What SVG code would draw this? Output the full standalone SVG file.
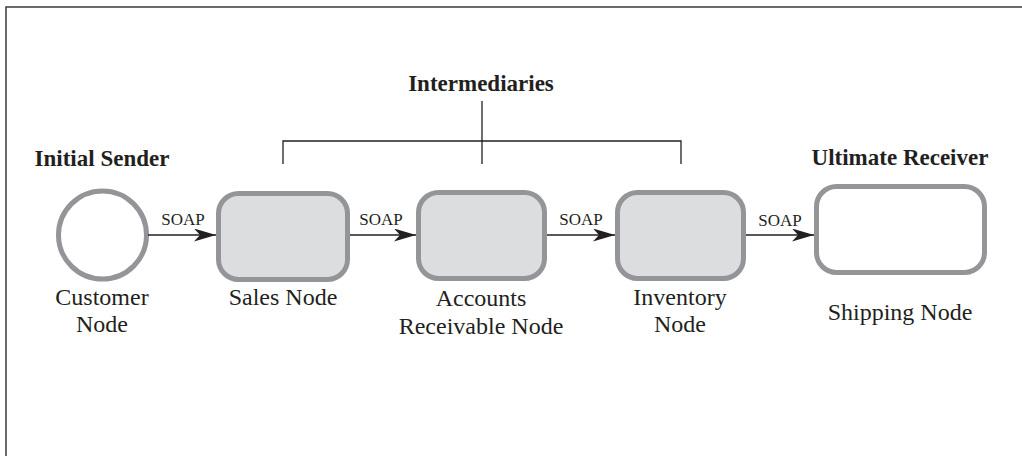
<svg xmlns="http://www.w3.org/2000/svg" width="1022" height="456" viewBox="0 0 1022 456">
<style>
.frame{fill:none;stroke:#3a3a3a;stroke-width:1.5}
.node{fill:#dcddde;stroke:#939598;stroke-width:5}
.endnode{fill:#ffffff;stroke:#939598;stroke-width:5}
.conn{stroke:#231f20;stroke-width:1.5;fill:none}
.br{stroke:#231f20;stroke-width:1.3;fill:none}
.lbl{font-family:"Liberation Serif",serif;font-size:24px;fill:#231f20;text-anchor:middle}
.hdr{font-family:"Liberation Serif",serif;font-size:23px;font-weight:bold;fill:#231f20;text-anchor:middle}
.soap{font-family:"Liberation Serif",serif;font-size:17px;fill:#231f20;text-anchor:middle}
</style>
<defs>
<marker id="ah" markerUnits="userSpaceOnUse" markerWidth="24" markerHeight="14" refX="22" refY="6.5" orient="auto">
<path d="M0,0 L22,6.5 L0,13 L6,6.5 Z" fill="#231f20"/>
</marker>
</defs>
<rect class="frame" x="6" y="7" width="1030" height="470"/>
<g id="headers">
<text class="hdr" x="102" y="166">Initial Sender</text>
<text class="hdr" x="481" y="91">Intermediaries</text>
<text class="hdr" x="900" y="165">Ultimate Receiver</text>
</g>
<g id="bracket">
<path class="br" d="M482,101 V164 M283,164 V141 H681 V164"/>
</g>
<g id="customer">
<circle class="endnode" cx="102.5" cy="235" r="44"/>
<text class="lbl" x="102" y="305">Customer</text>
<text class="lbl" x="102" y="332">Node</text>
</g>
<g id="sales">
<rect class="node" x="218.5" y="193.5" width="129" height="86" rx="20"/>
<text class="lbl" x="283" y="305">Sales Node</text>
</g>
<g id="accounts">
<rect class="node" x="418.5" y="192.5" width="126" height="86" rx="20"/>
<text class="lbl" x="481" y="306">Accounts</text>
<text class="lbl" x="481" y="334">Receivable Node</text>
</g>
<g id="inventory">
<rect class="node" x="617.5" y="192.5" width="126" height="86" rx="20"/>
<text class="lbl" x="680" y="305">Inventory</text>
<text class="lbl" x="680" y="332">Node</text>
</g>
<g id="shipping">
<rect class="endnode" x="816.5" y="186.5" width="168" height="86" rx="20"/>
<text class="lbl" x="900" y="320">Shipping Node</text>
</g>
<g id="connectors">
<line class="conn" x1="148" y1="235" x2="216" y2="235" marker-end="url(#ah)"/>
<line class="conn" x1="350" y1="235" x2="416" y2="235" marker-end="url(#ah)"/>
<line class="conn" x1="547" y1="235" x2="615" y2="235" marker-end="url(#ah)"/>
<line class="conn" x1="746" y1="235" x2="814" y2="235" marker-end="url(#ah)"/>
<text class="soap" x="183" y="225">SOAP</text>
<text class="soap" x="381" y="225">SOAP</text>
<text class="soap" x="581" y="225">SOAP</text>
<text class="soap" x="780" y="226">SOAP</text>
</g>
</svg>
